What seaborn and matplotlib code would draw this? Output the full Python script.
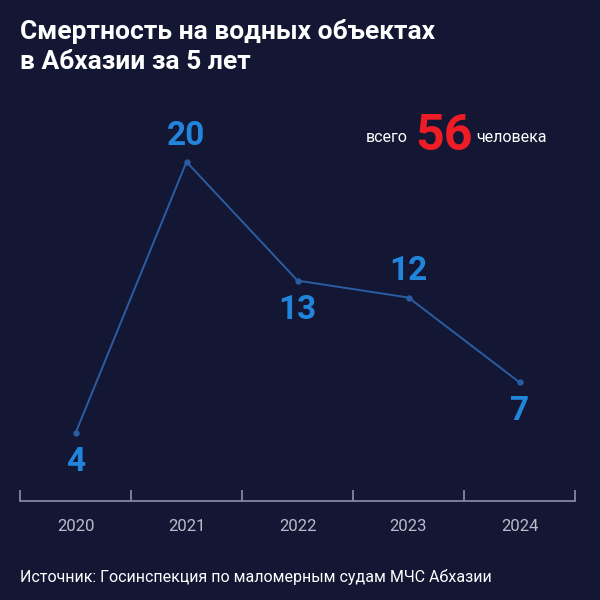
import matplotlib
matplotlib.use("Agg")
import matplotlib.pyplot as plt
import seaborn as sns

# данные
years = ["2020", "2021", "2022", "2023", "2024"]
deaths = [4, 20, 13, 12, 7]
label_side = ["below", "above", "below", "above", "below"]
total = 56

BG = "#131733"
LINE = "#2a5da3"
LABEL = "#2185dc"
AXIS = "#8d90a8"

sns.set_theme(style="white")
plt.rcParams["font.family"] = ["Roboto", "DejaVu Sans"]

fig = plt.figure(figsize=(6, 6), dpi=100, facecolor=BG)
ax = fig.add_axes([20 / 600, 99 / 600, 555 / 600, 373 / 600], facecolor=BG)

sns.pointplot(x=years, y=deaths, ax=ax, color=LINE, markersize=3.5, linewidth=1.4)

for i, (v, side) in enumerate(zip(deaths, label_side)):
    dy = 19 if side == "above" else -21
    ax.annotate(str(v), (i, v), xytext=(0, dy), textcoords="offset points",
                ha="center", va="center", fontsize=24, fontweight="bold", color=LABEL)

ax.set_xlim(-0.5, 4.5)
ax.set_ylim(0, 22)
ax.set_yticks([])
for s in ["top", "right", "left"]:
    ax.spines[s].set_visible(False)
ax.spines["bottom"].set_color(AXIS)
ax.spines["bottom"].set_linewidth(1.2)

ax.set_xticks(range(len(years)))
ax.set_xticklabels(years)
ax.tick_params(axis="x", which="major", bottom=True, length=0, pad=13,
               labelsize=12, labelcolor="#b9bccb")
ax.set_xticks([i - 0.5 for i in range(len(years) + 1)], minor=True)
ax.tick_params(axis="x", which="minor", bottom=True, direction="in",
               length=8, width=1.2, color=AXIS)

fig.text(20 / 600, 1 - 32 / 600, "Смертность на водных объектах", color="white",
         fontsize=19, fontweight="bold", va="center", ha="left")
fig.text(20 / 600, 1 - 62 / 600, "в Абхазии за 5 лет", color="white",
         fontsize=19, fontweight="bold", va="center", ha="left")

fig.text(408 / 600, 1 - 138 / 600, "всего", color="white", fontsize=11.5,
         ha="right", va="center")
fig.text(444 / 600, 1 - 136 / 600, str(total), color="#ee1c25", fontsize=36,
         fontweight="bold", ha="center", va="center")
fig.text(476 / 600, 1 - 138 / 600, "человека", color="white", fontsize=11.5,
         ha="left", va="center")

fig.text(20 / 600, 1 - 577 / 600, "Источник: Госинспекция по маломерным судам МЧС Абхазии",
         color="white", fontsize=11.5, ha="left", va="center")

fig.savefig("out.png", dpi=100, facecolor=BG)
